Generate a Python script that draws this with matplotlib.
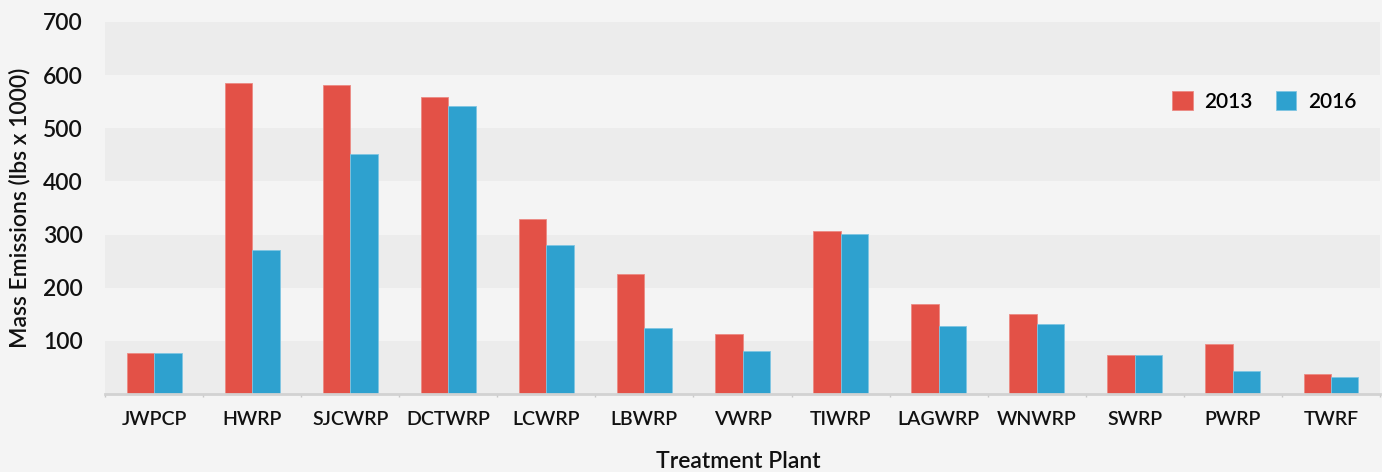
import matplotlib
matplotlib.use("Agg")
import matplotlib.pyplot as plt
import numpy as np

plants = ["JWPCP", "HWRP", "SJCWRP", "DCTWRP", "LCWRP", "LBWRP", "VWRP",
          "TIWRP", "LAGWRP", "WNWRP", "SWRP", "PWRP", "TWRF"]
emissions_2013 = [78, 585, 581, 558, 329, 226, 112, 306, 170, 150, 74, 95, 38]
emissions_2016 = [77, 271, 452, 542, 280, 125, 81, 302, 128, 132, 74, 43, 32]
y_ticks = [100, 200, 300, 400, 500, 600, 700]

RED = "#e35147"
BLUE = "#2ea1cf"
BG = "#f4f4f4"
BAND = "#ececec"
INK = "#111111"
WEIGHT = "semibold"

plt.rcParams["font.family"] = ["Lato", "DejaVu Sans"]

fig = plt.figure(figsize=(13.82, 4.72), dpi=100, facecolor=BG)
ax = fig.add_axes([105 / 1382, 1 - 394 / 472, 1275 / 1382, 372 / 472])
ax.set_facecolor(BG)

x = np.arange(len(plants))
w = 0.28

# alternating horizontal bands
for lo in range(0, 700, 200):
    ax.axhspan(lo, lo + 100, color=BAND, zorder=0, lw=0)

ax.bar(x - w / 2, emissions_2013, width=w, color=RED, edgecolor="#ec8a83",
       linewidth=0.6, label="2013", zorder=2)
ax.bar(x + w / 2, emissions_2016, width=w, color=BLUE, edgecolor="#7fc5e2",
       linewidth=0.6, label="2016", zorder=2)

ax.set_xlim(-0.5, len(plants) - 0.5)
ax.set_ylim(0, 700)
ax.set_yticks(y_ticks)
ax.set_yticklabels([str(v) for v in y_ticks], fontsize=16.5, fontweight=WEIGHT)
ax.set_xticks(x)
ax.set_xticklabels(plants, fontsize=14, fontweight=WEIGHT)
ax.set_xticks(np.arange(len(plants) + 1) - 0.5, minor=True)
ax.tick_params(axis="y", length=0, pad=16, labelcolor=INK)
ax.tick_params(axis="x", which="major", length=0, pad=12, labelcolor=INK)
ax.tick_params(axis="x", which="minor", length=2, width=1, color="#c8c8c8")

for side in ["top", "right", "left"]:
    ax.spines[side].set_visible(False)
ax.spines["bottom"].set_color("#d2d2d2")
ax.spines["bottom"].set_linewidth(2)

fig.text(738 / 1382, 1 - 461 / 472, "Treatment Plant", fontsize=16.5,
         fontweight=WEIGHT, ha="center", va="center", color=INK)
fig.text(20 / 1382, 1 - 208 / 472, "Mass Emissions (lbs x 1000)", fontsize=16.5,
         fontweight=WEIGHT, ha="center", va="center", rotation=90, color=INK)

ax.legend(loc="center left", bbox_to_anchor=(1172 / 1382, 1 - 101.5 / 472),
          bbox_transform=fig.transFigure, ncol=2, frameon=False,
          prop={"size": 15, "weight": WEIGHT},
          handlelength=1.0, handleheight=1.0, handletextpad=0.55,
          columnspacing=1.1, borderpad=0, borderaxespad=0)

fig.savefig("out.png", dpi=100, facecolor=BG)
